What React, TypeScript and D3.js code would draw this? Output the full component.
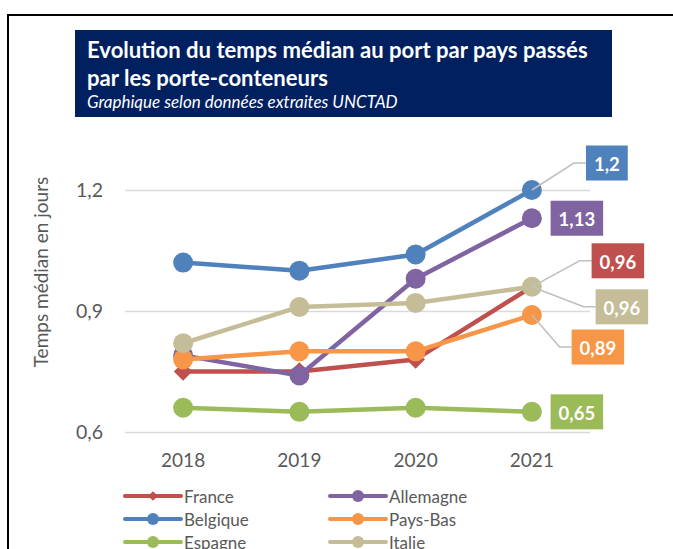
import * as d3 from "d3";
import React, { useEffect, useRef } from "react";

const years = ["2018", "2019", "2020", "2021"];
const countries = ["France", "Allemagne", "Belgique", "Pays-Bas", "Espagne", "Italie"];
const france = [0.75, 0.75, 0.78, 0.96];
const allemagne = [0.79, 0.74, 0.98, 1.13];
const belgique = [1.02, 1.0, 1.04, 1.2];
const paysBas = [0.78, 0.8, 0.8, 0.89];
const espagne = [0.66, 0.65, 0.66, 0.65];
const italie = [0.82, 0.91, 0.92, 0.96];
const yTicks = [0.6, 0.9, 1.2];

const colors = ["#C0504D", "#8064A2", "#4F81BD", "#F79646", "#9BBB59", "#C4BD97"];
// where the end label sits relative to the last point, and if it gets a leader line
const labelPos = [
  { dx: 86, dy: -26, leader: true },
  { dx: 45, dy: 0, leader: false },
  { dx: 75, dy: -27, leader: true },
  { dx: 66, dy: 32, leader: true },
  { dx: 45, dy: 0, leader: false },
  { dx: 90, dy: 20, leader: true },
];

const FONT = "Lato, 'Open Sans', sans-serif";
const fmt = (v: number) => String(v).replace(".", ",");

const App = () => {
  const svgRef = useRef<SVGSVGElement>(null);

  const renderSVG = () => {
    const width = 673;
    const height = 549;
    const series = [france, allemagne, belgique, paysBas, espagne, italie];

    svgRef.current!.innerHTML = "";
    const svg = d3
      .select(svgRef.current)
      .attr("width", width)
      .attr("height", height)
      .attr("viewBox", [0, 0, width, height])
      .style("position", "absolute")
      .style("left", 0)
      .style("top", 0)
      .style("background", "#fff");

    // frame
    svg.append("path").attr("d", `M8,${height} V15 H${width}`).attr("fill", "none").attr("stroke", "#000").attr("stroke-width", 2);

    // title block
    svg.append("rect").attr("x", 75).attr("y", 30).attr("width", 537).attr("height", 87).attr("fill", "#002060");
    const title = svg.append("g").attr("fill", "#fff").attr("font-family", FONT);
    title.append("text").attr("x", 87).attr("y", 58).attr("font-size", 22.1).attr("font-weight", "bold")
      .text("Evolution du temps médian au port par pays passés");
    title.append("text").attr("x", 87).attr("y", 86).attr("font-size", 22.1).attr("font-weight", "bold")
      .text("par les porte-conteneurs");
    title.append("text").attr("x", 87).attr("y", 108).attr("font-size", 17).attr("font-style", "italic")
      .text("Graphique selon données extraites UNCTAD");

    const x = d3.scaleBand<string>().domain(years).range([125, 590]);
    const cx = (d: string) => x(d)! + x.bandwidth() / 2;
    const y = d3.scaleLinear().domain([0.6, 1.2]).range([432, 190]);

    // grid + y axis
    const yAxis = d3.axisLeft(y).tickValues(yTicks).tickFormat((d) => fmt(+d)).tickSize(-465).tickPadding(22);
    svg.append("g")
      .attr("transform", "translate(125,0)")
      .call(yAxis)
      .call((g) => {
        g.select(".domain").remove();
        g.selectAll(".tick line").attr("stroke", "#D9D9D9").attr("stroke-width", 1.5);
        g.selectAll(".tick text").attr("fill", "#595959").attr("font-size", 19.5).attr("font-family", FONT);
      });

    svg.append("text")
      .attr("transform", "translate(48,272) rotate(-90)")
      .attr("text-anchor", "middle")
      .attr("fill", "#595959")
      .attr("font-size", 19)
      .attr("font-family", FONT)
      .text("Temps médian en jours");

    // x axis labels
    const xAxis = d3.axisBottom(x).tickSize(0).tickPadding(22);
    svg.append("g")
      .attr("transform", "translate(0,432)")
      .call(xAxis)
      .call((g) => {
        g.select(".domain").remove();
        g.selectAll(".tick text").attr("fill", "#595959").attr("font-size", 19).attr("font-family", FONT);
      });

    const line = d3.line<number>().x((_, i) => cx(years[i])).y((d) => y(d));
    const diamond = d3.symbol().type(d3.symbolDiamond2);

    series.forEach((vals, s) => {
      const g = svg.append("g");
      g.append("path").attr("d", line(vals)).attr("fill", "none").attr("stroke", colors[s])
        .attr("stroke-width", 4.5).attr("stroke-linejoin", "round");
      vals.forEach((v, i) => {
        if (s === 0) {
          g.append("path").attr("d", diamond.size(220)()).attr("transform", `translate(${cx(years[i])},${y(v)})`)
            .attr("fill", colors[s]);
        } else {
          g.append("circle").attr("cx", cx(years[i])).attr("cy", y(v)).attr("r", 10).attr("fill", colors[s]);
        }
      });
    });

    // end labels
    series.forEach((vals, s) => {
      const last = vals[vals.length - 1];
      const px = cx(years[years.length - 1]);
      const py = y(last);
      const p = labelPos[s];
      const g = svg.append("g");
      const txt = g.append("text")
        .attr("font-family", FONT).attr("font-size", 18.5).attr("font-weight", "bold")
        .attr("fill", "#fff").attr("text-anchor", "middle").attr("dominant-baseline", "central")
        .text(fmt(last));
      const tw = (txt.node() as SVGTextElement).getComputedTextLength();
      const bw = tw + 16;
      const bh = 35;
      const left = px + p.dx - bw / 2;
      const ly = py + p.dy;
      if (p.leader) {
        g.insert("path", "text")
          .attr("d", `M${px},${py} L${left - 12},${ly} H${left}`)
          .attr("fill", "none").attr("stroke", "#BFBFBF").attr("stroke-width", 1.5);
      }
      g.insert("rect", "text").attr("x", left).attr("y", ly - bh / 2).attr("width", bw).attr("height", bh).attr("fill", colors[s]);
      txt.attr("x", left + bw / 2).attr("y", ly + 1);
    });

    // legend
    const legend = svg.append("g").attr("font-family", FONT).attr("font-size", 17).attr("fill", "#595959");
    countries.forEach((name, s) => {
      const col = s % 2;
      const row = Math.floor(s / 2);
      const lx = col === 0 ? 125 : 330;
      const ly = 496 + row * 23;
      legend.append("line").attr("x1", lx).attr("x2", lx + 56).attr("y1", ly).attr("y2", ly)
        .attr("stroke", colors[s]).attr("stroke-width", 4).attr("stroke-linecap", "round");
      if (s === 0) {
        legend.append("path").attr("d", diamond.size(60)()).attr("transform", `translate(${lx + 28},${ly})`).attr("fill", colors[s]);
      } else {
        legend.append("circle").attr("cx", lx + 28).attr("cy", ly).attr("r", 6).attr("fill", colors[s]);
      }
      legend.append("text").attr("x", lx + 59).attr("y", ly).attr("dominant-baseline", "central").text(name);
    });
  };

  useEffect(() => {
    renderSVG();
  });

  return <svg ref={svgRef} />;
};

export default App;
